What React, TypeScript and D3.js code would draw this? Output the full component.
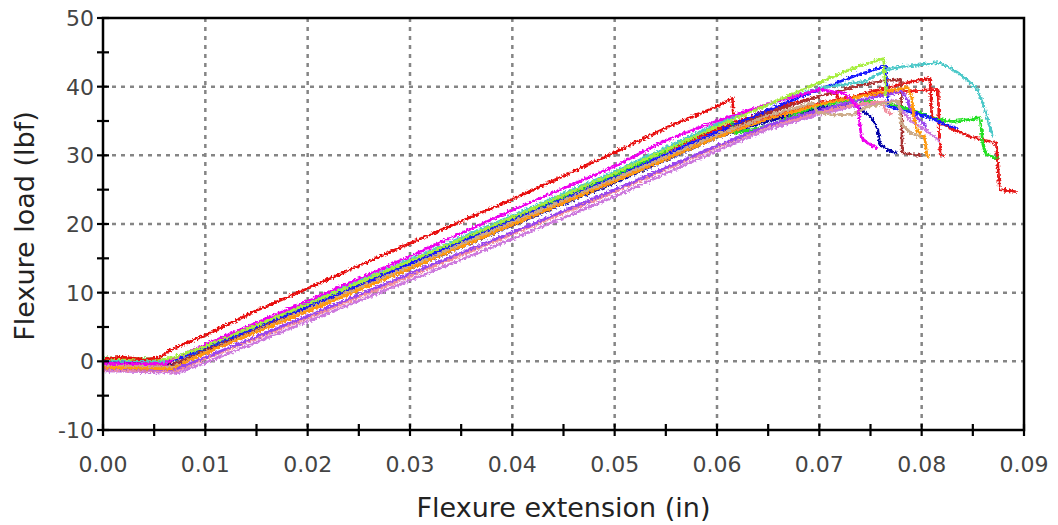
import React from "react";
import * as d3 from "d3";

// Axis ticks
const X_TICKS = [0, 0.01, 0.02, 0.03, 0.04, 0.05, 0.06, 0.07, 0.08, 0.09];
const X_MINOR = [0.005, 0.015, 0.025, 0.035, 0.045, 0.055, 0.065, 0.075, 0.085];
const Y_TICKS = [-10, 0, 10, 20, 30, 40, 50];
const Y_MINOR = [-5, 5, 15, 25, 35, 45];

// Specimen curves: [extension (in), load (lbf)]
const redA: [number, number][] = [
  [0, 0.4], [0.002, 0.6], [0.004, 0.3], [0.0055, 0.5], [0.0065, 1.6], [0.01, 3.8], [0.015, 7.4],
  [0.02, 10.6], [0.025, 13.9], [0.03, 17.2], [0.035, 20.4], [0.04, 23.6], [0.045, 27.0],
  [0.05, 30.4], [0.055, 34.0], [0.06, 37.1], [0.0615, 38.3], [0.0616, 36.0],
];
const magenta: [number, number][] = [
  [0, -0.3], [0.006, -0.4], [0.0068, 0.3], [0.01, 2.4], [0.02, 8.8], [0.03, 15.3], [0.04, 22.0],
  [0.05, 28.4], [0.055, 32.2], [0.06, 35.0], [0.065, 37.5], [0.07, 39.6], [0.0725, 39.0],
  [0.0738, 37.0], [0.0741, 32.6], [0.0748, 31.7], [0.0757, 31.0],
];
const teal: [number, number][] = [
  [0, 0.2], [0.006, 0.0], [0.0068, 0.4], [0.01, 2.3], [0.02, 8.5], [0.03, 14.8], [0.04, 21.2],
  [0.05, 27.6], [0.06, 34.6], [0.065, 37.4], [0.07, 39.8], [0.0745, 40.8], [0.0765, 42.4],
  [0.078, 42.9], [0.08, 43.2], [0.0815, 43.5], [0.0825, 43.0], [0.0838, 41.8], [0.0848, 40.5],
  [0.0855, 39.4], [0.086, 37.5], [0.0865, 35.0], [0.0868, 33.5], [0.087, 32.8],
];
const lime: [number, number][] = [
  [0, 0.4], [0.006, 0.3], [0.0068, 0.5], [0.01, 2.2], [0.02, 8.3], [0.03, 14.6], [0.04, 21.0],
  [0.05, 27.4], [0.06, 34.2], [0.065, 37.4], [0.07, 40.6], [0.0735, 42.8], [0.0763, 44.1],
  [0.0765, 38.5],
];
const blue: [number, number][] = [
  [0, 0.2], [0.006, 0.1], [0.007, 0.2], [0.01, 2.0], [0.02, 8.0], [0.03, 14.2], [0.04, 20.5],
  [0.05, 26.8], [0.06, 33.4], [0.065, 36.6], [0.07, 39.6], [0.0735, 41.6], [0.0765, 43.0],
  [0.0767, 37.2], [0.078, 36.6], [0.079, 36.3], [0.081, 35.4], [0.0821, 34.6], [0.0835, 33.9],
];
const green: [number, number][] = [
  [0, 0.5], [0.006, 0.3], [0.007, 0.2], [0.01, 2.0], [0.02, 8.1], [0.03, 14.3], [0.04, 20.6],
  [0.05, 27.0], [0.06, 34.3], [0.0614, 35.2], [0.0617, 33.2], [0.064, 33.9], [0.066, 34.9],
  [0.068, 36.2], [0.07, 37.3], [0.073, 38.0], [0.076, 37.8], [0.0786, 36.8], [0.08, 36.1],
  [0.081, 35.4], [0.083, 34.9], [0.0845, 35.2], [0.0857, 35.5], [0.086, 31.5], [0.0863, 30.2],
  [0.0874, 29.5],
];
const navy: [number, number][] = [
  [0, -0.2], [0.006, -0.5], [0.007, -0.4], [0.01, 1.6], [0.02, 7.5], [0.03, 13.5], [0.04, 19.8],
  [0.05, 26.0], [0.06, 32.6], [0.065, 35.0], [0.07, 36.9], [0.0725, 37.3], [0.0738, 37.0],
  [0.0751, 35.5], [0.0757, 33.9], [0.0759, 31.6], [0.0766, 30.9], [0.0775, 30.3],
];
const orange: [number, number][] = [
  [0, -0.9], [0.0068, -1.1], [0.0078, -0.3], [0.01, 1.2], [0.02, 7.3], [0.03, 13.5], [0.04, 19.9],
  [0.05, 26.2], [0.06, 32.6], [0.065, 35.3], [0.07, 37.4], [0.074, 38.6], [0.0775, 39.6],
  [0.0786, 39.9], [0.079, 38.8], [0.0792, 36.0], [0.0795, 33.6], [0.0803, 32.6], [0.0805, 30.0],
  [0.0808, 29.8],
];
const tan: [number, number][] = [
  [0, -0.6], [0.0068, -0.8], [0.0075, -0.5], [0.01, 1.3], [0.02, 7.5], [0.03, 13.8], [0.04, 20.3],
  [0.05, 26.6], [0.06, 33.0], [0.065, 35.8], [0.0694, 37.6], [0.0698, 36.2], [0.0715, 35.9],
  [0.0735, 36.0], [0.0745, 37.0], [0.0765, 37.6], [0.0778, 37.9], [0.078, 34.6], [0.079, 33.2],
  [0.0797, 32.8], [0.0805, 32.3],
];
const purple: [number, number][] = [
  [0, -1.0], [0.007, -1.2], [0.008, -0.6], [0.01, 0.6], [0.02, 6.6], [0.03, 12.8], [0.04, 18.8],
  [0.05, 25.0], [0.06, 31.4], [0.065, 34.4], [0.07, 36.6], [0.0735, 37.9], [0.0765, 38.8],
  [0.078, 39.3], [0.0785, 38.4], [0.079, 36.5], [0.0797, 35.2], [0.0805, 34.2],
];
const orchid: [number, number][] = [
  [0, -1.4], [0.0075, -1.6], [0.0085, -1.0], [0.01, -0.2], [0.02, 5.8], [0.03, 11.8], [0.04, 17.8],
  [0.05, 24.0], [0.06, 30.7], [0.065, 33.8], [0.07, 36.0], [0.0735, 37.2], [0.0765, 37.8],
  [0.0775, 38.0], [0.078, 36.6], [0.079, 35.0], [0.0802, 33.9], [0.081, 33.0], [0.0818, 32.0],
];
const pink: [number, number][] = [
  [0, -1.2], [0.007, -1.4], [0.008, -0.9], [0.01, 0.4], [0.02, 6.3], [0.03, 12.4], [0.04, 18.5],
  [0.05, 24.7], [0.06, 31.2], [0.065, 34.2], [0.07, 36.3], [0.0735, 37.4], [0.0762, 37.9],
  [0.0765, 36.4], [0.0772, 36.0],
];
const brown: [number, number][] = [
  [0, -0.5], [0.0065, -0.7], [0.0072, -0.2], [0.01, 1.5], [0.02, 7.7], [0.03, 14.0], [0.04, 20.4],
  [0.05, 26.8], [0.06, 33.2], [0.065, 36.2], [0.07, 38.6], [0.074, 40.2], [0.0765, 40.9],
  [0.078, 41.0], [0.0781, 30.4], [0.079, 30.1], [0.0799, 30.0],
];
const redB: [number, number][] = [
  [0, -0.2], [0.0062, -0.4], [0.0068, 0.2], [0.01, 2.2], [0.02, 8.4], [0.03, 14.7], [0.04, 21.0],
  [0.05, 27.4], [0.06, 33.8], [0.065, 36.6], [0.07, 38.6], [0.0717, 39.2], [0.0719, 37.8],
  [0.074, 38.8], [0.077, 40.0], [0.0795, 40.9], [0.0808, 41.2], [0.081, 35.6], [0.083, 33.8],
  [0.085, 32.6], [0.0873, 31.8], [0.0876, 25.0], [0.0893, 24.7],
];
const redC: [number, number][] = [
  [0, -0.8], [0.0068, -1.0], [0.0075, -0.4], [0.01, 1.2], [0.02, 7.3], [0.03, 13.6], [0.04, 20.0],
  [0.05, 26.3], [0.06, 32.8], [0.065, 35.6], [0.07, 37.6], [0.074, 38.7], [0.077, 39.1],
  [0.079, 39.4], [0.0816, 39.6], [0.0818, 30.2], [0.0822, 29.8],
];

// Drawing order: later entries sit on top
const SERIES: { name: string; color: string; data: [number, number][] }[] = [
  { name: "redC", color: "#ee1c1c", data: redC },
  { name: "redB", color: "#e41414", data: redB },
  { name: "navy", color: "#0000a8", data: navy },
  { name: "brown", color: "#a83030", data: brown },
  { name: "green", color: "#22e022", data: green },
  { name: "blue", color: "#1515ff", data: blue },
  { name: "teal", color: "#4cc8c8", data: teal },
  { name: "orchid", color: "#cc77dd", data: orchid },
  { name: "pink", color: "#f08c9c", data: pink },
  { name: "purple", color: "#9944ee", data: purple },
  { name: "tan", color: "#ccaa88", data: tan },
  { name: "orange", color: "#ff9a10", data: orange },
  { name: "magenta", color: "#ee00ee", data: magenta },
  { name: "lime", color: "#a6ee3c", data: lime },
  { name: "redA", color: "#e81010", data: redA },
];

const W = 1058;
const H = 525;
const M = { left: 103, right: 1024, top: 18, bottom: 430 };

export default function App() {
  const x = d3.scaleLinear().domain([0, 0.09]).range([M.left, M.right]);
  const y = d3.scaleLinear().domain([-10, 50]).range([M.bottom, M.top]);
  const line = d3
    .line<[number, number]>()
    .x((d) => x(d[0]))
    .y((d) => y(d[1]));

  const font = "'DejaVu Sans', Verdana, sans-serif";

  return (
    <svg
      width={W}
      height={H}
      style={{ position: "absolute", left: 0, top: 0, background: "#fff" }}
    >
      <defs>
        <filter id="jitter" x="-5%" y="-5%" width="110%" height="110%">
          <feTurbulence type="fractalNoise" baseFrequency="0.45" numOctaves="2" seed="3" result="n" />
          <feDisplacementMap in="SourceGraphic" in2="n" scale="5" xChannelSelector="R" yChannelSelector="G" />
        </filter>
        <clipPath id="plot">
          <rect x={M.left} y={M.top} width={M.right - M.left} height={M.bottom - M.top} />
        </clipPath>
      </defs>

      {/* grid */}
      <g stroke="#858585" strokeWidth={2.5} strokeDasharray="4,5">
        {X_TICKS.slice(1, -1).map((t) => (
          <line key={"gx" + t} x1={x(t)} x2={x(t)} y1={M.top} y2={M.bottom} />
        ))}
        {Y_TICKS.slice(1, -1).map((t) => (
          <line key={"gy" + t} x1={M.left} x2={M.right} y1={y(t)} y2={y(t)} />
        ))}
      </g>

      {/* specimen curves */}
      <g clipPath="url(#plot)">
        <g filter="url(#jitter)">
          {SERIES.map((s) => (
            <path
              key={s.name}
              d={line(s.data) || ""}
              fill="none"
              stroke={s.color}
              strokeWidth={2.7}
              strokeLinejoin="round"
            />
          ))}
        </g>
      </g>

      {/* frame */}
      <rect
        x={M.left}
        y={M.top}
        width={M.right - M.left}
        height={M.bottom - M.top}
        fill="none"
        stroke="#000"
        strokeWidth={2.5}
      />

      {/* ticks */}
      <g stroke="#000" strokeWidth={2.2}>
        {[...X_TICKS, ...X_MINOR].map((t) => (
          <line key={"tx" + t} x1={x(t)} x2={x(t)} y1={M.bottom - 6} y2={M.bottom + 6} />
        ))}
        {[...Y_TICKS, ...Y_MINOR].map((t) => (
          <line key={"ty" + t} x1={M.left - 6} x2={M.left + 6} y1={y(t)} y2={y(t)} />
        ))}
      </g>

      {/* tick labels */}
      <g fontFamily={font} fontSize={22} fill="#444">
        {X_TICKS.map((t) => (
          <text key={"lx" + t} x={x(t)} y={472} textAnchor="middle">
            {d3.format(".2f")(t)}
          </text>
        ))}
        {Y_TICKS.map((t) => (
          <text key={"ly" + t} x={94} y={y(t)} dy="0.36em" textAnchor="end">
            {t}
          </text>
        ))}
      </g>

      {/* axis titles */}
      <text
        x={(M.left + M.right) / 2}
        y={517}
        textAnchor="middle"
        fontFamily={font}
        fontSize={27}
        fill="#222"
      >
        Flexure extension (in)
      </text>
      <text
        transform={`translate(34, ${226}) rotate(-90)`}
        textAnchor="middle"
        fontFamily={font}
        fontSize={27}
        fill="#222"
      >
        Flexure load (lbf)
      </text>
    </svg>
  );
}
